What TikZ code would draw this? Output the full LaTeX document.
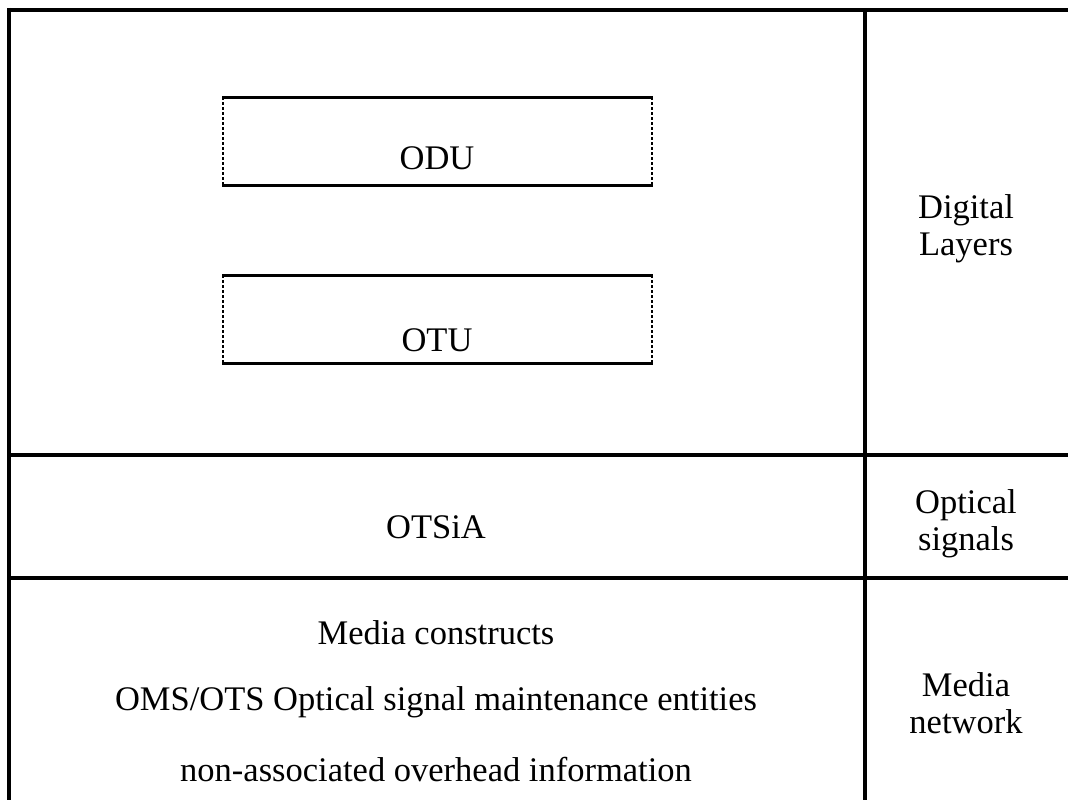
\documentclass[tikz,border=0pt]{standalone}
\usepackage{fontspec}
\setmainfont{Liberation Serif}
\begin{document}
\begin{tikzpicture}[x=1pt,y=-1pt,
  frame/.style={line width=4pt},
  boxedge/.style={line width=3pt},
  boxside/.style={line width=1.5pt,densely dashed},
  lbl/.style={inner sep=0pt,font=\fontsize{34.5}{37}\selectfont,align=center}]
\useasboundingbox (0,0) rectangle (1068,800);
% outer frame and grid
\draw[frame] (9,8) -- (9,800);
\draw[frame] (7,10) -- (1068,10);
\draw[frame] (865,10) -- (865,800);
\draw[frame] (9,455) -- (1068,455);
\draw[frame] (9,578) -- (1068,578);
% ODU box
\draw[boxedge] (222,97) -- (653,97);
\draw[boxedge] (222,185) -- (653,185);
\draw[boxside] (223,97) -- (223,185);
\draw[boxside] (652,97) -- (652,185);
% OTU box
\draw[boxedge] (222,275) -- (653,275);
\draw[boxedge] (222,363) -- (653,363);
\draw[boxside] (223,275) -- (223,363);
\draw[boxside] (652,275) -- (652,363);
% labels
\node[lbl] (odu) at (437,158) {ODU};
\node[lbl] (otu) at (437,340) {OTU};
\node[lbl] (digital) at (966,229) {Digital\\Layers};
\node[lbl] (otsia) at (436,527) {OTSiA};
\node[lbl] (optical) at (966,524) {Optical\\signals};
\node[lbl] (media) at (436,633) {Media constructs};
\node[lbl] (oms) at (436,702) {OMS/OTS Optical signal maintenance entities};
\node[lbl] (nonassoc) at (436,770) {non-associated overhead information};
\node[lbl] (medianet) at (966,703) {Media\\network};
\end{tikzpicture}
\end{document}
